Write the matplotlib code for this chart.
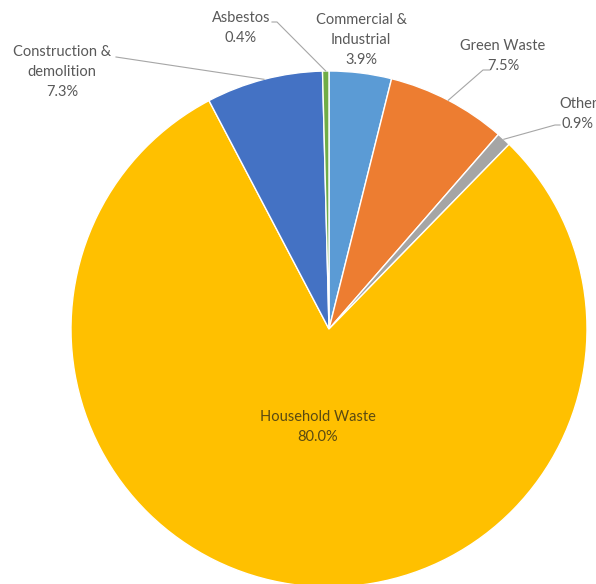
import numpy as np
import matplotlib.pyplot as plt

# --- data ---
categories = ["Commercial &\nIndustrial", "Green Waste", "Other",
              "Household Waste", "Construction &\ndemolition", "Asbestos"]
shares = [3.9, 7.5, 0.9, 80.0, 7.3, 0.4]
colors = ["#5B9BD5", "#ED7D31", "#A5A5A5", "#FFC000", "#4472C4", "#70AD47"]

W, H = 596, 584
fig = plt.figure(figsize=(W / 100, H / 100), dpi=100)
ax = fig.add_axes([0, 0, 1, 1])
ax.set_xlim(0, W)
ax.set_ylim(0, H)
ax.set_aspect("equal")
ax.axis("off")

cx, cy, r = 329, H - 329, 258
wedges, _ = ax.pie(shares, colors=colors, startangle=90, counterclock=False,
                   center=(cx, cy), radius=r,
                   wedgeprops=dict(edgecolor="white", linewidth=1.0))
ax.set_xlim(0, W)
ax.set_ylim(0, H)

txt = dict(family=["Lato", "DejaVu Sans"], fontsize=10.5, color="#595959",
           ha="center", va="center", linespacing=1.5)
line_kw = dict(color="#A6A6A6", lw=0.8)


def edge_point(w):
    mid = np.deg2rad((w.theta1 + w.theta2) / 2)
    return cx + r * np.cos(mid), cy + r * np.sin(mid)


# label centre (pixel coords, y from top) and leader path from text side
layout = {
    0: ((361, 40), None),
    1: ((503, 56), [(490, 70), (483, 70)]),
    2: ((578, 114), [(560, 125), (555, 125)]),
    3: ((318, 427), None),
    4: ((62, 72), [(116, 57)]),
    5: ((241, 28), [(272, 22), (277, 22)]),
}

for i, (lab, val) in enumerate(zip(categories, shares)):
    (tx, ty), path = layout[i]
    kw = dict(txt)
    if i == 3:
        kw["color"] = "#5a4a12"
    ax.text(tx, H - ty, f"{lab}\n{val:.1f}%", **kw)
    if path:
        ex, ey = edge_point(wedges[i])
        xs = [p[0] for p in path] + [ex]
        ys = [H - p[1] for p in path] + [ey]
        ax.plot(xs, ys, **line_kw)

fig.savefig("out.png", dpi=100, facecolor="white")
